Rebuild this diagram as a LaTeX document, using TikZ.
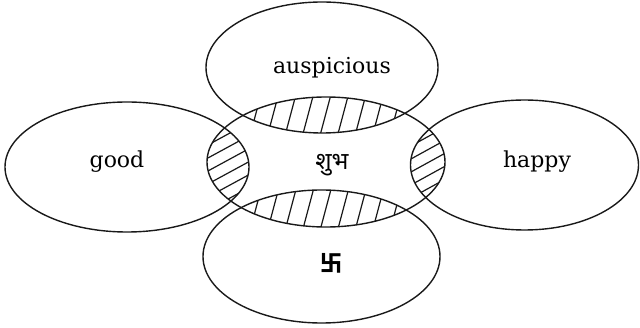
\documentclass[tikz,border=0pt]{standalone}
\usepackage{fontspec}
\setmainfont{DejaVu Serif}
\newfontfamily\devfont[Script=Devanagari]{Noto Sans}
\newfontfamily\cjkfont{Noto Sans CJK SC}
\begin{document}
\begin{tikzpicture}[x=1pt,y=-1pt,
  ring/.style={line width=1.4pt,draw=black!90},
  hatch/.style={line width=1.2pt,draw=black!90},
  lbl/.style={font=\fontsize{22}{26}\selectfont,text=black,inner sep=0pt}]
\useasboundingbox (0,0) rectangle (640,328);
% centres
\coordinate (cT) at (322,67.5);
\coordinate (cC) at (326,162);
\coordinate (cB) at (321.5,256.5);
\coordinate (cL) at (127,167);
\coordinate (cR) at (524.5,165);
\def\eT{(cT) ellipse [x radius=116,y radius=65.5]}
\def\eC{(cC) ellipse [x radius=119,y radius=65]}
\def\eB{(cB) ellipse [x radius=118.5,y radius=66.5]}
\def\eL{(cL) ellipse [x radius=122,y radius=65]}
\def\eR{(cR) ellipse [x radius=114,y radius=65]}
% hatching: top lens
\begin{scope}
  \clip \eT; \clip \eC;
  \foreach \k in {160,177.5,...,480} \draw[hatch] (\k,145) -- ++(16,-60);
\end{scope}
% bottom lens
\begin{scope}
  \clip \eB; \clip \eC;
  \foreach \k in {160,177.5,...,480} \draw[hatch] (\k,240) -- ++(16,-60);
\end{scope}
% left lens
\begin{scope}
  \clip \eL; \clip \eC;
  \foreach \k in {100,113,...,280} \draw[hatch] (195,\k) -- ++(70,-38);
\end{scope}
% right lens
\begin{scope}
  \clip \eR; \clip \eC;
  \foreach \k in {100,113,...,280} \draw[hatch] (400,\k) -- ++(60,-33);
\end{scope}
% outlines
\draw[ring] \eT;
\draw[ring] \eC;
\draw[ring] \eB;
\draw[ring] \eL;
\draw[ring] \eR;
% labels
\node[lbl] (ausp) at (332,68) {auspicious};
\node[lbl] (good) at (117,162) {good};
\node[lbl] (happy) at (537,162) {happy};
\node[lbl,font=\devfont\bfseries\fontsize{24}{28}\selectfont] (shubh) at (332,165) {शुभ};
\node[lbl,font=\cjkfont\bfseries\fontsize{22}{26}\selectfont] (swas) at (331,263) {卐};
\end{tikzpicture}
\end{document}
